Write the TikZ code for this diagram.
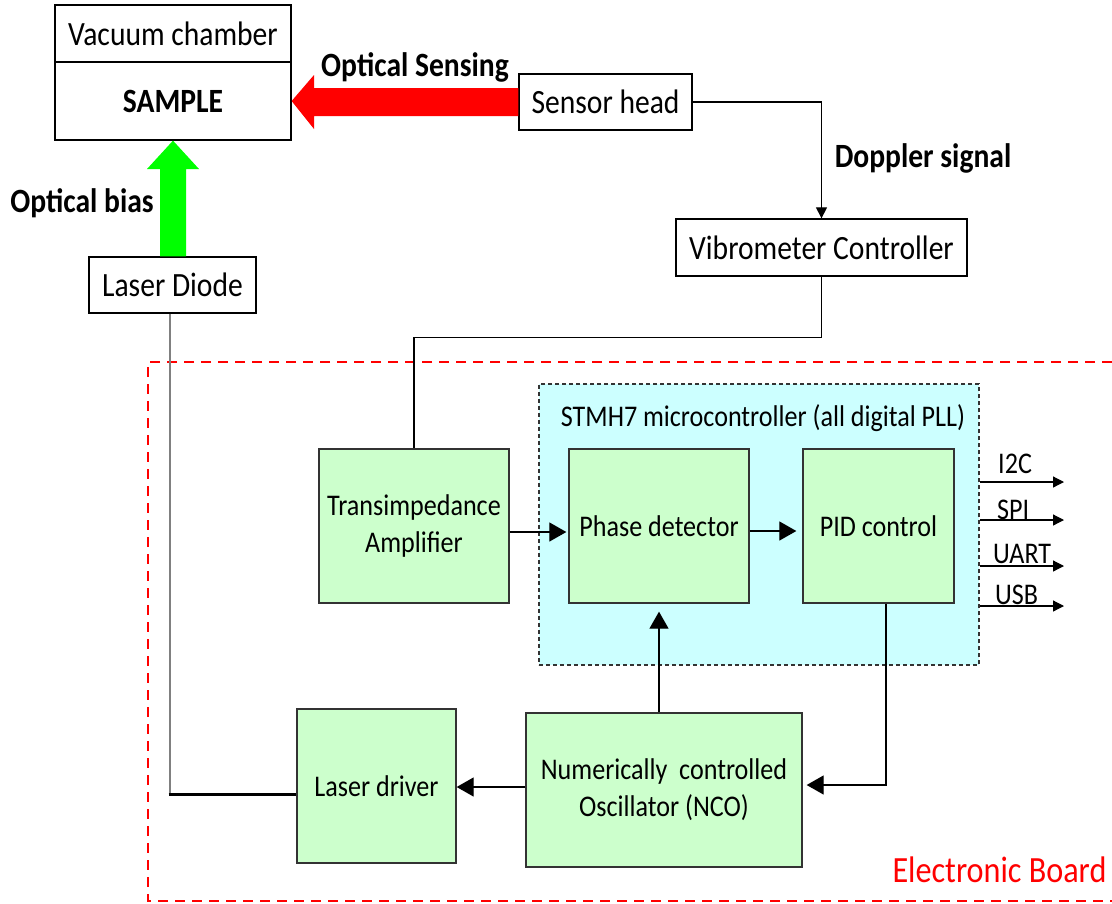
\documentclass[tikz,border=0pt]{standalone}
\usepackage{fontspec}
\setmainfont{Carlito}[FakeStretch=0.87]
\usetikzlibrary{arrows.meta}
\definecolor{gfill}{HTML}{CCFFCC}
\definecolor{cfill}{HTML}{CCFFFF}
\definecolor{pgreen}{HTML}{00FF00}
\definecolor{pred}{HTML}{FF0000}
\begin{document}
\begin{tikzpicture}[x=1pt,y=-1pt,
  big/.style={font=\fontsize{34}{40}\selectfont},
  small/.style={font=\fontsize{30}{37}\selectfont},
  wbox/.style={draw=black, line width=1.3pt, fill=white, inner sep=0pt, big},
  gbox/.style={draw=black!80, line width=1.3pt, fill=gfill, inner sep=0pt, align=center, small},
  conn/.style={draw=black, line width=1.2pt},
  bigtip/.style={-{Triangle[length=17pt,width=19pt]}},
  smalltip/.style={-{Triangle[length=11pt,width=11pt]}},
  lbl/.style={inner sep=0pt, font=\fontsize{34}{40}\selectfont\bfseries}
]
\useasboundingbox (0,0) rectangle (1112,903);

% board
\draw[pred, line width=2.5pt, dash pattern=on 10pt off 7pt] (1112,362) -- (148,362) -- (148,901) -- (1112,901);
\node[text=pred, inner sep=0pt, font=\fontsize{37}{44}\selectfont] (board) at (999.5,870) {Electronic Board};

% top part
\node[wbox, minimum width=236pt, minimum height=57pt] (vac) at (173,33.5) {Vacuum chamber};
\node[wbox, minimum width=236pt, minimum height=78pt, font=\fontsize{34}{40}\selectfont\bfseries] (sample) at (173,101) {SAMPLE};
\node[wbox, minimum width=173pt, minimum height=56pt] (sensor) at (605.5,102) {Sensor head};
\node[wbox, minimum width=291pt, minimum height=57pt] (vib) at (821.5,247.5) {Vibrometer Controller};
\node[wbox, minimum width=167pt, minimum height=56pt] (ld) at (172.5,285) {Laser Diode};

\fill[pred] (sample.east) -- (314,75) -- (314,88) -- (sensor.west |- 0,88) -- (sensor.west |- 0,116) -- (314,116) -- (314,129) -- cycle;
\fill[pgreen] (sample.south) -- (199,169) -- (186,169) -- (186,0 |- ld.north) -- (160,0 |- ld.north) -- (160,169) -- (147,169) -- cycle;

\node[lbl] (osense) at (415,67) {Optical Sensing};
\node[lbl] (obias) at (82,203) {Optical bias};
\node[lbl] (dopp) at (923,158) {Doppler signal};

\draw[conn, smalltip] (sensor.east) -| (vib.north);

% microcontroller
\node[draw=black!80, line width=1.2pt, dash pattern=on 4pt off 3pt, fill=cfill, minimum width=440pt, minimum height=281pt, inner sep=0pt] (mcu) at (759,524.5) {};
\node[small, inner sep=0pt] (mcutitle) at (763,418) {STMH7 microcontroller (all digital PLL)};

\node[gbox, minimum width=190pt, minimum height=154pt] (tia) at (414,526) {Transimpedance\\Amplifier};
\node[gbox, minimum width=180pt, minimum height=154pt] (pd) at (659,526) {Phase detector};
\node[gbox, minimum width=151pt, minimum height=154pt] (pid) at (878.5,526) {PID control};
\node[gbox, minimum width=276pt, minimum height=154pt] (nco) at (664,790) {Numerically\ \ controlled\\Oscillator (NCO)};
\node[gbox, minimum width=159pt, minimum height=154pt] (ldrv) at (376.5,786) {Laser driver};

\draw[conn] (vib.south) -- ++(0,61) -| (tia.north);
\draw[conn, bigtip] ([yshift=-6pt]tia.east) -- ([yshift=-6pt,xshift=-2pt]pd.west);
\draw[conn, bigtip] ([yshift=-5pt]pd.east) -- ([yshift=-5pt,xshift=-6pt]pid.west);
\draw[conn, bigtip] (pd.south |- nco.north) -- ([yshift=-8pt]pd.south);
\draw[conn, bigtip] ([xshift=7.5pt]pid.south) |- ([xshift=4pt,yshift=5pt]nco.east);
\draw[conn, bigtip] ([yshift=3pt]nco.west) -- ([yshift=3pt]nco.west -| ldrv.east);

\coordinate (corner) at (170,794);
\draw[draw=black!50, line width=2pt] (ld.south -| corner) -- (corner);
\draw[line width=3pt] ([xshift=-1.5pt]corner) -- (corner -| ldrv.west);

% outputs
\coordinate (o1) at (1064,482);
\coordinate (o2) at (1064,520);
\coordinate (o3) at (1064,566);
\coordinate (o4) at (1064,606);
\draw[conn, smalltip] (mcu.east |- o1) -- (o1);
\draw[conn, smalltip] (mcu.east |- o2) -- (o2);
\draw[conn, smalltip] (mcu.east |- o3) -- (o3);
\draw[conn, smalltip] (mcu.east |- o4) -- (o4);
\node[small, anchor=west, inner sep=0pt] (l1) at (998,464) {I2C};
\node[small, anchor=west, inner sep=0pt] (l2) at (997,510) {SPI};
\node[small, anchor=west, inner sep=0pt] (l3) at (993,554) {UART};
\node[small, anchor=west, inner sep=0pt] (l4) at (995,595) {USB};
\end{tikzpicture}
\end{document}
